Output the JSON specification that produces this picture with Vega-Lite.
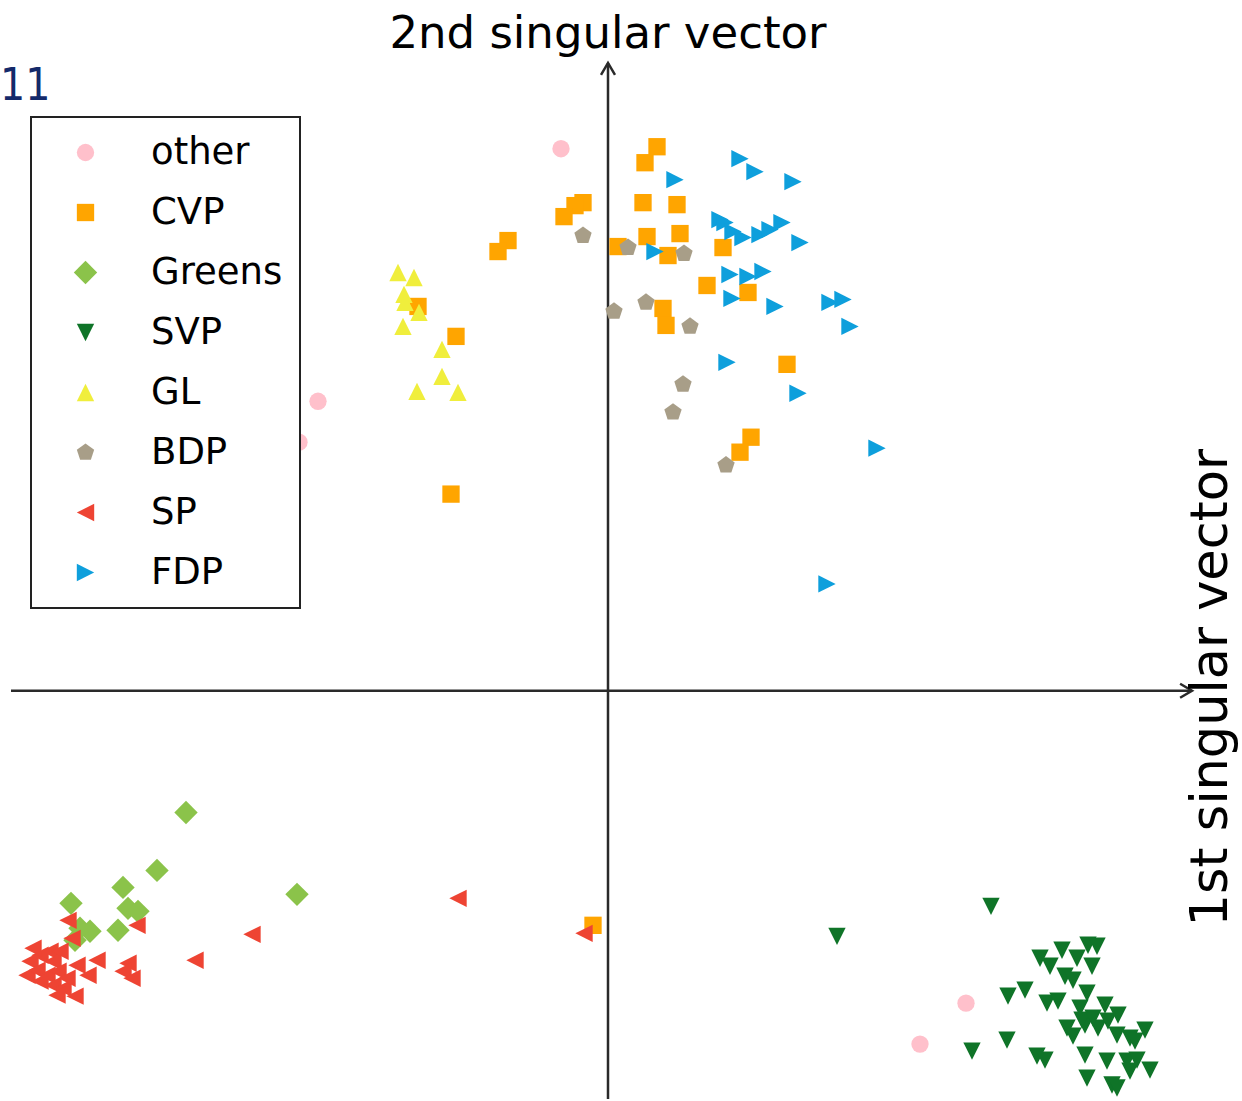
{
  "$schema": "https://vega.github.io/schema/vega-lite/v6.json",
  "width": 1242,
  "height": 1101,
  "autosize": {"type": "fit", "contains": "padding"},
  "padding": 0,
  "background": "white",
  "config": {
    "view": {"stroke": null},
    "font": "DejaVu Sans",
    "legend": {"strokeWidth": 2}
  },
  "datasets": {
    "points": [
      {"cat": "other", "x": -46, "y": 543},
      {"cat": "other", "x": -289, "y": 290},
      {"cat": "other", "x": -308, "y": 249},
      {"cat": "other", "x": 359, "y": -313},
      {"cat": "other", "x": 313, "y": -354},
      {"cat": "CVP", "x": 50, "y": 545},
      {"cat": "CVP", "x": 38, "y": 529},
      {"cat": "CVP", "x": 36, "y": 489},
      {"cat": "CVP", "x": 70, "y": 487},
      {"cat": "CVP", "x": 40, "y": 455},
      {"cat": "CVP", "x": 73, "y": 458},
      {"cat": "CVP", "x": 11, "y": 445},
      {"cat": "CVP", "x": 61, "y": 436},
      {"cat": "CVP", "x": 116, "y": 444},
      {"cat": "CVP", "x": 100, "y": 406},
      {"cat": "CVP", "x": 141, "y": 399},
      {"cat": "CVP", "x": 56, "y": 383},
      {"cat": "CVP", "x": 59, "y": 366},
      {"cat": "CVP", "x": 180, "y": 327},
      {"cat": "CVP", "x": 144, "y": 254},
      {"cat": "CVP", "x": 133, "y": 239},
      {"cat": "CVP", "x": -24, "y": 489},
      {"cat": "CVP", "x": -32, "y": 486},
      {"cat": "CVP", "x": -43, "y": 475},
      {"cat": "CVP", "x": -99, "y": 451},
      {"cat": "CVP", "x": -109, "y": 440},
      {"cat": "CVP", "x": -189, "y": 385},
      {"cat": "CVP", "x": -151, "y": 355},
      {"cat": "CVP", "x": -156, "y": 197},
      {"cat": "CVP", "x": -14, "y": -235},
      {"cat": "Greens", "x": -421, "y": -122},
      {"cat": "Greens", "x": -450, "y": -180},
      {"cat": "Greens", "x": -484, "y": -197},
      {"cat": "Greens", "x": -310, "y": -204},
      {"cat": "Greens", "x": -536, "y": -213},
      {"cat": "Greens", "x": -479, "y": -218},
      {"cat": "Greens", "x": -469, "y": -221},
      {"cat": "Greens", "x": -517, "y": -241},
      {"cat": "Greens", "x": -527, "y": -238},
      {"cat": "Greens", "x": -489, "y": -240},
      {"cat": "Greens", "x": -532, "y": -250},
      {"cat": "SVP", "x": 384, "y": -216},
      {"cat": "SVP", "x": 230, "y": -246},
      {"cat": "SVP", "x": 365, "y": -361},
      {"cat": "SVP", "x": 400, "y": -350},
      {"cat": "SVP", "x": 401, "y": -306},
      {"cat": "SVP", "x": 418, "y": -300},
      {"cat": "SVP", "x": 433, "y": -268},
      {"cat": "SVP", "x": 443, "y": -276},
      {"cat": "SVP", "x": 455, "y": -260},
      {"cat": "SVP", "x": 470, "y": -268},
      {"cat": "SVP", "x": 481, "y": -255},
      {"cat": "SVP", "x": 490, "y": -256},
      {"cat": "SVP", "x": 485, "y": -276},
      {"cat": "SVP", "x": 458, "y": -286},
      {"cat": "SVP", "x": 466, "y": -290},
      {"cat": "SVP", "x": 440, "y": -313},
      {"cat": "SVP", "x": 451, "y": -311},
      {"cat": "SVP", "x": 480, "y": -303},
      {"cat": "SVP", "x": 473, "y": -318},
      {"cat": "SVP", "x": 498, "y": -315},
      {"cat": "SVP", "x": 511, "y": -325},
      {"cat": "SVP", "x": 460, "y": -338},
      {"cat": "SVP", "x": 466, "y": -346},
      {"cat": "SVP", "x": 478, "y": -335},
      {"cat": "SVP", "x": 491, "y": -338},
      {"cat": "SVP", "x": 501, "y": -331},
      {"cat": "SVP", "x": 510, "y": -345},
      {"cat": "SVP", "x": 523, "y": -348},
      {"cat": "SVP", "x": 538, "y": -340},
      {"cat": "SVP", "x": 528, "y": -351},
      {"cat": "SVP", "x": 430, "y": -366},
      {"cat": "SVP", "x": 438, "y": -370},
      {"cat": "SVP", "x": 478, "y": -365},
      {"cat": "SVP", "x": 500, "y": -371},
      {"cat": "SVP", "x": 520, "y": -371},
      {"cat": "SVP", "x": 530, "y": -370},
      {"cat": "SVP", "x": 543, "y": -380},
      {"cat": "SVP", "x": 523, "y": -381},
      {"cat": "SVP", "x": 480, "y": -388},
      {"cat": "SVP", "x": 505, "y": -395},
      {"cat": "SVP", "x": 510, "y": -398},
      {"cat": "SVP", "x": 475, "y": -330},
      {"cat": "SVP", "x": 486, "y": -328},
      {"cat": "GL", "x": -209, "y": 419},
      {"cat": "GL", "x": -193, "y": 414},
      {"cat": "GL", "x": -203, "y": 397},
      {"cat": "GL", "x": -202, "y": 389},
      {"cat": "GL", "x": -188, "y": 379},
      {"cat": "GL", "x": -204, "y": 365},
      {"cat": "GL", "x": -165, "y": 342},
      {"cat": "GL", "x": -165, "y": 315},
      {"cat": "GL", "x": -190, "y": 300},
      {"cat": "GL", "x": -149, "y": 299},
      {"cat": "BDP", "x": -24, "y": 456},
      {"cat": "BDP", "x": 21, "y": 444},
      {"cat": "BDP", "x": 77, "y": 438},
      {"cat": "BDP", "x": 39, "y": 389},
      {"cat": "BDP", "x": 7, "y": 380},
      {"cat": "BDP", "x": 83, "y": 365},
      {"cat": "BDP", "x": 76, "y": 307},
      {"cat": "BDP", "x": 66, "y": 279},
      {"cat": "BDP", "x": 119, "y": 226},
      {"cat": "SP", "x": -539, "y": -230},
      {"cat": "SP", "x": -470, "y": -235},
      {"cat": "SP", "x": -535, "y": -248},
      {"cat": "SP", "x": -355, "y": -244},
      {"cat": "SP", "x": -412, "y": -270},
      {"cat": "SP", "x": -510, "y": -270},
      {"cat": "SP", "x": -530, "y": -275},
      {"cat": "SP", "x": -479, "y": -273},
      {"cat": "SP", "x": -484, "y": -281},
      {"cat": "SP", "x": -519, "y": -285},
      {"cat": "SP", "x": -475, "y": -288},
      {"cat": "SP", "x": -532, "y": -306},
      {"cat": "SP", "x": -557, "y": -261},
      {"cat": "SP", "x": -567, "y": -265},
      {"cat": "SP", "x": -577, "y": -271},
      {"cat": "SP", "x": -554, "y": -271},
      {"cat": "SP", "x": -580, "y": -285},
      {"cat": "SP", "x": -570, "y": -280},
      {"cat": "SP", "x": -560, "y": -285},
      {"cat": "SP", "x": -549, "y": -281},
      {"cat": "SP", "x": -567, "y": -291},
      {"cat": "SP", "x": -554, "y": -295},
      {"cat": "SP", "x": -544, "y": -298},
      {"cat": "SP", "x": -540, "y": -288},
      {"cat": "SP", "x": -574, "y": -258},
      {"cat": "SP", "x": -547, "y": -261},
      {"cat": "SP", "x": -550, "y": -305},
      {"cat": "SP", "x": -149, "y": -208},
      {"cat": "SP", "x": -23, "y": -243},
      {"cat": "FDP", "x": 133, "y": 533},
      {"cat": "FDP", "x": 148, "y": 520},
      {"cat": "FDP", "x": 186, "y": 510},
      {"cat": "FDP", "x": 68, "y": 512},
      {"cat": "FDP", "x": 113, "y": 472},
      {"cat": "FDP", "x": 118, "y": 469},
      {"cat": "FDP", "x": 126, "y": 460},
      {"cat": "FDP", "x": 136, "y": 454},
      {"cat": "FDP", "x": 153, "y": 457},
      {"cat": "FDP", "x": 163, "y": 462},
      {"cat": "FDP", "x": 175, "y": 469},
      {"cat": "FDP", "x": 193, "y": 449},
      {"cat": "FDP", "x": 48, "y": 440},
      {"cat": "FDP", "x": 123, "y": 417},
      {"cat": "FDP", "x": 141, "y": 415},
      {"cat": "FDP", "x": 156, "y": 420},
      {"cat": "FDP", "x": 125, "y": 393},
      {"cat": "FDP", "x": 168, "y": 385},
      {"cat": "FDP", "x": 223, "y": 389},
      {"cat": "FDP", "x": 236, "y": 392},
      {"cat": "FDP", "x": 243, "y": 365},
      {"cat": "FDP", "x": 120, "y": 329},
      {"cat": "FDP", "x": 191, "y": 298},
      {"cat": "FDP", "x": 270, "y": 243},
      {"cat": "FDP", "x": 220, "y": 107}
    ],
    "axes": [
      {"x": -596, "x2": 585, "y": 0, "y2": 0},
      {"x": 1, "x2": 1, "y": 629, "y2": -409}
    ],
    "xtip": [{"x": 585, "y": 0}],
    "ytip": [{"x": 1, "y": 629}],
    "title2": [{"label": "2nd singular vector", "x": 1, "y": 644}],
    "title1": [{"label": "1st singular vector", "x": 620, "y": 3}],
    "page": [{"label": "11", "x": -607, "y": 592}]
  },
  "layer": [
    {
      "data": {"name": "axes"},
      "mark": {"type": "rule", "color": "#2a2a2a", "strokeWidth": 2.5},
      "encoding": {
        "x": {"field": "x", "type": "quantitative", "scale": {"domain": [-607, 635], "nice": false, "zero": false}, "axis": null},
        "x2": {"field": "x2"},
        "y": {"field": "y", "type": "quantitative", "scale": {"domain": [-409, 692], "nice": false, "zero": false}, "axis": null},
        "y2": {"field": "y2"}
      }
    },
    {
      "data": {"name": "xtip"},
      "mark": {"type": "point", "shape": "M-1.7,-1L0,0L-1.7,1", "filled": false, "stroke": "#2a2a2a", "strokeWidth": 2.5, "size": 196, "opacity": 1},
      "encoding": {
        "x": {"field": "x", "type": "quantitative", "scale": {"domain": [-607, 635], "nice": false, "zero": false}, "axis": null},
        "y": {"field": "y", "type": "quantitative", "scale": {"domain": [-409, 692], "nice": false, "zero": false}, "axis": null}
      }
    },
    {
      "data": {"name": "ytip"},
      "mark": {"type": "point", "shape": "M-1,1.7L0,0L1,1.7", "filled": false, "stroke": "#2a2a2a", "strokeWidth": 2.5, "size": 196, "opacity": 1},
      "encoding": {
        "x": {"field": "x", "type": "quantitative", "scale": {"domain": [-607, 635], "nice": false, "zero": false}, "axis": null},
        "y": {"field": "y", "type": "quantitative", "scale": {"domain": [-409, 692], "nice": false, "zero": false}, "axis": null}
      }
    },
    {
      "data": {"name": "points"},
      "mark": {"type": "point", "filled": true, "opacity": 1, "size": 300, "strokeWidth": 0},
      "encoding": {
        "x": {"field": "x", "type": "quantitative", "scale": {"domain": [-607, 635], "nice": false, "zero": false}, "axis": null},
        "y": {"field": "y", "type": "quantitative", "scale": {"domain": [-409, 692], "nice": false, "zero": false}, "axis": null},
        "color": {
          "field": "cat", "type": "nominal",
          "scale": {
            "domain": ["other", "CVP", "Greens", "SVP", "GL", "BDP", "SP", "FDP"],
            "range": ["#ffc0cb", "#ffa500", "#8bc34a", "#0f7428", "#f0ee3c", "#a89e88", "#ee4433", "#0e9fdc"]
          },
          "legend": {"title": null, "orient": "none", "legendX": 31, "legendY": 117, "strokeColor": "#222222", "fillColor": "white", "padding": 17, "symbolOffset": 19, "labelOffset": 47, "labelFontSize": 37, "labelFont": "DejaVu Sans", "labelColor": "black", "rowPadding": 22, "symbolSize": 300, "symbolStrokeWidth": 0, "cornerRadius": 0, "labelBaseline": "middle"}
        },
        "shape": {
          "field": "cat", "type": "nominal",
          "scale": {
            "domain": ["other", "CVP", "Greens", "SVP", "GL", "BDP", "SP", "FDP"],
            "range": ["circle", "square", "M0,-1.35L1.35,0L0,1.35L-1.35,0Z", "M0,1L1,-1L-1,-1Z", "M0,-1L1,1L-1,1Z", "M0,-1.05L1,-0.32L0.62,0.85L-0.62,0.85L-1,-0.32Z", "M-1,0L1,-1L1,1Z", "M1,0L-1,-1L-1,1Z"]
          },
          "legend": {"title": null, "orient": "none", "legendX": 31, "legendY": 117, "strokeColor": "#222222", "fillColor": "white", "padding": 17, "symbolOffset": 19, "labelOffset": 47, "labelFontSize": 37, "labelFont": "DejaVu Sans", "labelColor": "black", "rowPadding": 22, "symbolSize": 300, "symbolStrokeWidth": 0, "cornerRadius": 0, "labelBaseline": "middle"}
        }
      }
    },
    {
      "data": {"name": "title2"},
      "mark": {"type": "text", "font": "DejaVu Sans", "fontSize": 45, "align": "center", "baseline": "alphabetic", "color": "black"},
      "encoding": {
        "x": {"field": "x", "type": "quantitative", "scale": {"domain": [-607, 635], "nice": false, "zero": false}, "axis": null},
        "y": {"field": "y", "type": "quantitative", "scale": {"domain": [-409, 692], "nice": false, "zero": false}, "axis": null},
        "text": {"field": "label"}
      }
    },
    {
      "data": {"name": "title1"},
      "mark": {"type": "text", "font": "DejaVu Sans", "fontSize": 51, "align": "center", "baseline": "alphabetic", "angle": 270, "color": "black"},
      "encoding": {
        "x": {"field": "x", "type": "quantitative", "scale": {"domain": [-607, 635], "nice": false, "zero": false}, "axis": null},
        "y": {"field": "y", "type": "quantitative", "scale": {"domain": [-409, 692], "nice": false, "zero": false}, "axis": null},
        "text": {"field": "label"}
      }
    },
    {
      "data": {"name": "page"},
      "mark": {"type": "text", "font": "Liberation Sans Narrow, DejaVu Sans Condensed, DejaVu Sans", "fontSize": 44, "align": "left", "baseline": "alphabetic", "color": "#14296a", "dx": 0},
      "encoding": {
        "x": {"field": "x", "type": "quantitative", "scale": {"domain": [-607, 635], "nice": false, "zero": false}, "axis": null},
        "y": {"field": "y", "type": "quantitative", "scale": {"domain": [-409, 692], "nice": false, "zero": false}, "axis": null},
        "text": {"field": "label"}
      }
    }
  ]
}
